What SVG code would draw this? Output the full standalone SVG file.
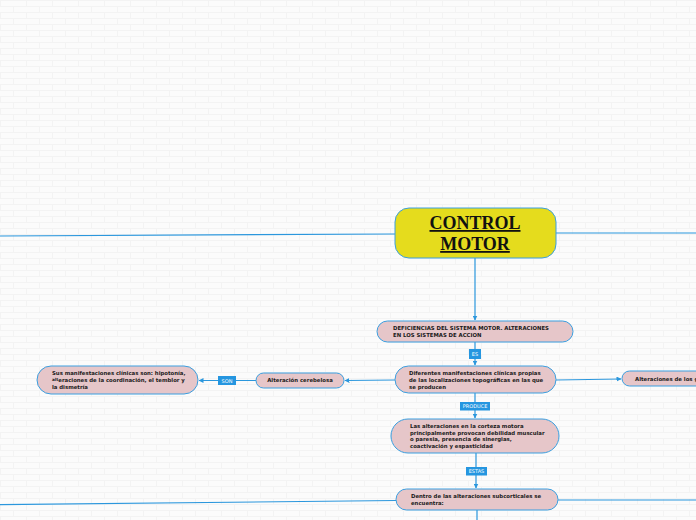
<svg xmlns="http://www.w3.org/2000/svg" width="696" height="520" viewBox="0 0 696 520">
<style>
.ln{stroke:#2b97dd;stroke-width:1.2;fill:none}
.nd{fill:#e6c6c9;stroke:#3a9fe0;stroke-width:1}
.t{font-family:"DejaVu Sans",Verdana,sans-serif;font-weight:bold;font-size:5.35px;fill:#1a1a1a}
.lb{fill:#2596e0}
.lt{font-family:"DejaVu Sans",Verdana,sans-serif;font-size:5px;fill:#fff;text-anchor:middle}
</style>
<defs>
<pattern id="brick" width="26" height="12" patternUnits="userSpaceOnUse">
<rect width="26" height="12" fill="#fbfbfb"/>
<path d="M0 0.5H26M0 6.5H26M0.5 0V6M13.5 6V12" stroke="#f3f3f3" stroke-width="1" fill="none"/>
</pattern>
<marker id="ar" viewBox="0 0 10 10" refX="9" refY="5" markerWidth="5" markerHeight="5" orient="auto" markerUnits="userSpaceOnUse">
<path d="M0 0L10 5L0 10z" fill="#2b97dd"/>
</marker>
</defs>
<rect width="696" height="520" fill="url(#brick)"/>
<g id="connectors">
<path class="ln" d="M395 234L0 236"/>
<path class="ln" d="M556 233L696 233"/>
<path class="ln" d="M475 258V320" marker-end="url(#ar)"/>
<path class="ln" d="M475 342V365" marker-end="url(#ar)"/>
<path class="ln" d="M395 380L345 380.5" marker-end="url(#ar)"/>
<path class="ln" d="M256 380.5L199 380.5" marker-end="url(#ar)"/>
<path class="ln" d="M556 380L621 379" marker-end="url(#ar)"/>
<path class="ln" d="M475 393V418" marker-end="url(#ar)"/>
<path class="ln" d="M476 453V488" marker-end="url(#ar)"/>
<path class="ln" d="M396 500.5L0 504.7"/>
<path class="ln" d="M558 500L696 500"/>
<path class="ln" d="M477 510V520"/>
<rect class="lb" x="469" y="349" width="12" height="10"/>
<text class="lt" x="475" y="356">ES</text>
<rect class="lb" x="218" y="376" width="18" height="9"/>
<text class="lt" x="227" y="382.7">SON</text>
<rect class="lb" x="460" y="402" width="30" height="8.5"/>
<text class="lt" x="475" y="408.2">PRODUCE</text>
<rect class="lb" x="466" y="467" width="21" height="8.5"/>
<text class="lt" x="476.5" y="473.2">ESTAS</text>
</g>
<g id="control-motor">
<rect x="395" y="208" width="161" height="50" rx="14" fill="#e5dc1d" stroke="#3a9fe0" stroke-width="1"/>
<text x="475" y="229" text-anchor="middle" font-family="'Liberation Serif',serif" font-weight="bold" font-size="18" text-decoration="underline" fill="#111">CONTROL </text>
<text x="475" y="250" text-anchor="middle" font-family="'Liberation Serif',serif" font-weight="bold" font-size="18" text-decoration="underline" fill="#111">MOTOR</text>
</g>
<g id="deficiencias">
<rect class="nd" x="377" y="321" width="196" height="21" rx="10.5"/>
<text class="t" x="393" y="330">DEFICIENCIAS DEL SISTEMA MOTOR. ALTERACIONES</text>
<text class="t" x="393" y="337">EN LOS SISTEMAS DE ACCION</text>
</g>
<g id="diferentes">
<rect class="nd" x="395" y="366" width="161" height="27" rx="13.5"/>
<text class="t" x="409" y="374.5">Diferentes manifestaciones clínicas propias</text>
<text class="t" x="409" y="381.5">de las localizaciones topográficas en las que</text>
<text class="t" x="409" y="388.5">se producen</text>
</g>
<g id="cerebelosa">
<rect class="nd" x="256" y="373" width="88" height="15" rx="7.5"/>
<text class="t" x="300" y="382.3" text-anchor="middle">Alteración cerebelosa</text>
</g>
<g id="manifestaciones">
<rect class="nd" x="37" y="366" width="161" height="28" rx="14"/>
<text class="t" x="52" y="375">Sus manifestaciones clínicas son: hipotonía,</text>
<text class="t" x="52" y="382"><tspan font-size="4.2px" dy="-1">alt</tspan><tspan dy="1">eraciones de la coordinación, el temblor y</tspan></text>
<text class="t" x="52" y="388.5">la dismetría</text>
</g>
<g id="alteraciones-g">
<rect class="nd" x="622" y="371" width="90" height="15" rx="7.5"/>
<text class="t" x="635" y="380.5">Alteraciones de los g</text>
</g>
<g id="corteza">
<rect class="nd" x="391" y="419" width="168" height="34" rx="17"/>
<text class="t" x="410" y="428">Las alteraciones en la corteza motora</text>
<text class="t" x="410" y="434.5">principalmente provocan debilidad muscular</text>
<text class="t" x="410" y="441">o paresia, presencia de sinergias,</text>
<text class="t" x="410" y="447.5">coactivación y espasticidad</text>
</g>
<g id="subcorticales">
<rect class="nd" x="396" y="489" width="162" height="21" rx="10.5"/>
<text class="t" x="411" y="497.5">Dentro de las alteraciones subcorticales se</text>
<text class="t" x="411" y="504.5">encuentra:</text>
</g>
</svg>
